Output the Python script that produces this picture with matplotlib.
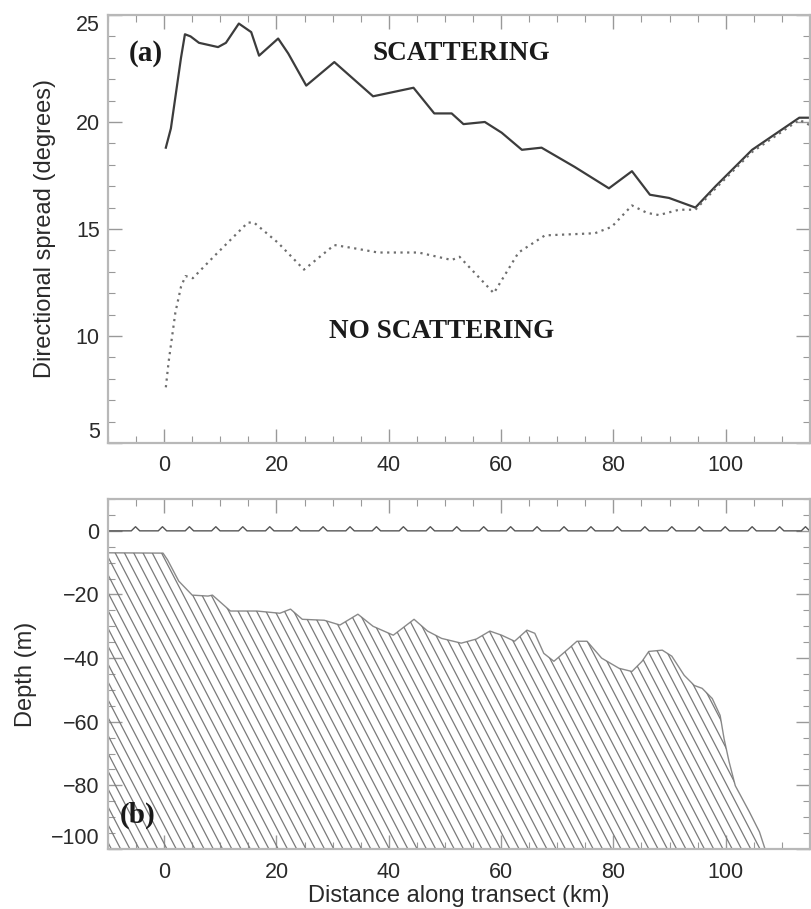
import matplotlib
matplotlib.use('Agg')
import matplotlib.pyplot as plt
import numpy as np
from matplotlib.patches import Polygon
from matplotlib.collections import LineCollection
from matplotlib.ticker import MultipleLocator

plt.rcParams['font.family'] = ['Liberation Sans', 'DejaVu Sans']

# panel (a): directional spread along the transect
scat_km = [0.3, 1.2, 3.0, 3.7, 4.7, 6.2, 9.6, 11.0, 13.3, 15.5, 16.9, 20.3, 22.1,
           25.3, 30.3, 37.2, 44.4, 48.1, 51.2, 53.3, 57.1, 60.1, 63.7, 67.2, 73.1,
           79.2, 83.3, 86.5, 89.9, 94.6, 98.2, 104.7, 113.1, 115.5]
scat_deg = [18.8, 19.7, 23.0, 24.1, 24.0, 23.7, 23.5, 23.7, 24.6, 24.2, 23.1, 23.9, 23.2,
            21.7, 22.8, 21.2, 21.6, 20.4, 20.4, 19.9, 20.0, 19.5, 18.7, 18.8, 17.9,
            16.9, 17.7, 16.6, 16.45, 16.0, 17.0, 18.7, 20.2, 20.2]

noscat_km = [0.3, 0.8, 2.0, 3.0, 3.8, 5.1, 8.8, 14.9, 16.0, 20.3, 24.9, 30.3, 33.8,
             38.1, 45.3, 51.2, 52.6, 58.7, 63.1, 67.8, 76.7, 79.7, 83.3, 86.0, 88.1,
             91.7, 94.6, 98.2, 104.7, 113.1, 115.0]
noscat_deg = [7.6, 8.8, 11.1, 12.3, 12.8, 12.7, 13.7, 15.3, 15.3, 14.35, 13.1, 14.25, 14.1,
              13.9, 13.9, 13.55, 13.7, 12.0, 13.9, 14.7, 14.8, 15.1, 16.1, 15.75, 15.65,
              15.9, 15.9, 16.9, 18.6, 20.1, 19.85]

# panel (b): bathymetry and sea surface
bed_km = [-10, -0.2, 0.6, 2.6, 5.0, 7.8, 8.6, 11.8, 16.5, 20.6, 22.5, 24.6, 28.5,
          31.3, 34.5, 37.2, 40.8, 44.5, 46.9, 49.4, 52.9, 55.6, 58.0, 60.1, 62.4,
          64.6, 66.0, 67.6, 69.4, 72.1, 73.5, 75.3, 77.9, 81.0, 83.3, 85.1, 86.3,
          88.7, 90.4, 92.6, 94.4, 95.8, 97.6, 99.0, 99.7, 100.6, 101.7, 104.2, 106.0, 107.0]
bed_m = [-6.9, -7.0, -9.1, -15.8, -20.2, -20.5, -20.2, -25.2, -25.2, -25.9, -24.6, -27.8, -28.1,
         -29.6, -26.2, -30.0, -32.8, -27.8, -31.5, -33.8, -35.3, -34.0, -31.5, -32.8, -34.7,
         -31.2, -32.2, -38.5, -41.0, -36.9, -34.7, -34.7, -40.0, -43.2, -44.2, -41.0, -37.9,
         -37.5, -39.4, -45.4, -48.6, -49.5, -52.7, -58.0, -65.3, -72.6, -80.1, -88.3, -94.6, -100.0]

crest_km = [-5.1, -0.3, 4.5, 9.2, 14.0, 18.8, 23.5, 28.3, 33.1, 37.8, 42.6, 47.4, 52.1,
            56.9, 61.7, 66.4, 71.2, 76.0, 80.7, 85.6, 90.4, 95.3, 99.9, 104.7, 109.6, 114.2]

xticks = [0, 20, 40, 60, 80, 100]

spine_col = '#b8b8b8'
text_col = '#2a2a2a'

fig = plt.figure(figsize=(8.12, 9.09), dpi=100)
ax1 = fig.add_axes([0.133, 0.5127, 0.8645, 0.4708])
ax2 = fig.add_axes([0.133, 0.066, 0.8645, 0.385])

for ax in (ax1, ax2):
    ax.set_xlim(-10, 115)
    ax.set_xticks(xticks)
    ax.xaxis.set_minor_locator(MultipleLocator(5))
    ax.tick_params(which='both', direction='in', top=True, right=True,
                   color='#999999', labelsize=15.5, labelcolor=text_col)
    ax.tick_params(which='major', length=10, width=1)
    ax.tick_params(which='minor', length=5, width=0.8)
    ax.tick_params(axis='x', pad=9)
    ax.tick_params(axis='y', pad=6)
    for s in ax.spines.values():
        s.set_color(spine_col)
        s.set_linewidth(1.6)

# (a)
ax1.plot(scat_km, scat_deg, color='#3c3c3c', lw=1.6)
ax1.plot(noscat_km, noscat_deg, color='#6e6e6e', lw=1.6, ls=(0, (1, 2)))
ax1.set_ylim(5, 25)
ax1.set_yticks([5, 10, 15, 20, 25])
ax1.yaxis.set_minor_locator(MultipleLocator(1))
ax1.set_ylabel('Directional spread (degrees)', fontsize=17, color=text_col, labelpad=14)
serif = ['Liberation Serif', 'DejaVu Serif']
ax1.text(53, 23.2, 'SCATTERING', family=serif, fontweight='bold', fontsize=19.5,
         ha='center', va='center', color='#1a1a1a')
ax1.text(49.4, 10.2, 'NO SCATTERING', family=serif, fontweight='bold', fontsize=19.5,
         ha='center', va='center', color='#1a1a1a')
ax1.text(-3.3, 23.2, '(a)', family=serif, fontweight='bold', fontsize=21,
         ha='center', va='center', color='#1a1a1a')

# (b)
ax2.set_ylim(-100, 10)
ax2.set_yticks([-100, -80, -60, -40, -20, 0])
ax2.yaxis.set_minor_locator(MultipleLocator(5))
ax2.set_ylabel('Depth (m)', fontsize=17, color=text_col, labelpad=10)
ax2.set_xlabel('Distance along transect (km)', fontsize=17, color=text_col, labelpad=2)

# sea surface with small crests
sx, sy = [-10], [0]
for c in crest_km:
    sx += [c - 0.75, c, c + 0.75]
    sy += [0, 1.3, 0]
sx.append(115)
sy.append(0)
ax2.plot(sx, sy, color='#555555', lw=1.0)

bed = Polygon(list(zip(bed_km, bed_m)) + [(-10, -100)], closed=True,
              facecolor='none', edgecolor='none')
ax2.add_patch(bed)
ax2.plot(bed_km, bed_m, color='#8a8a8a', lw=1.0)
drop = 110 / 3.4
segs = [[(x0, 10), (x0 + drop, -100)] for x0 in np.arange(-50, 120, 1.65)]
hatch = LineCollection(segs, colors='#7a7a7a', linewidths=0.9)
ax2.add_collection(hatch)
hatch.set_clip_path(bed)
ax2.text(-4.7, -89.3, '(b)', family=serif, fontweight='bold', fontsize=21,
         ha='center', va='center', color='#1a1a1a')

fig.canvas.draw()
for ax in (ax1, ax2):
    ticks = ax.yaxis.get_major_ticks()
    ticks[0].label1.set_va('bottom')
ax1.yaxis.get_major_ticks()[-1].label1.set_va('top')

fig.savefig('out.png', dpi=100)
